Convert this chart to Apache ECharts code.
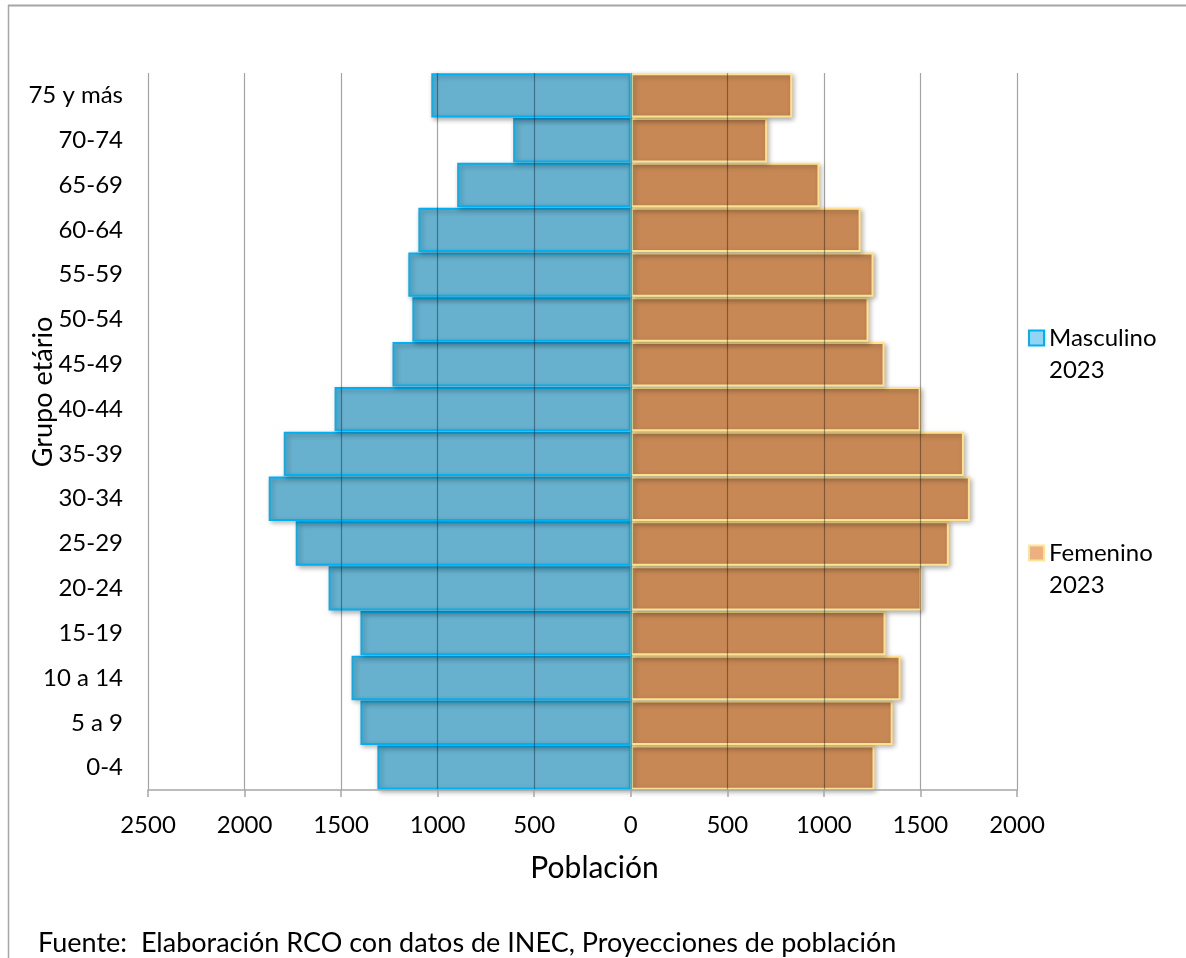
<!DOCTYPE html>
<html>
<head>
<meta charset="utf-8">
<script src="https://cdn.jsdelivr.net/npm/echarts@6/dist/echarts.min.js"></script>
<style>
html,body{margin:0;padding:0;background:#fff;}
#chart{width:1186px;height:958px;}
</style>
</head>
<body>
<div id="chart"></div>
<script>
const categories = ['0-4','5 a 9','10 a 14','15-19','20-24','25-29','30-34','35-39','40-44','45-49','50-54','55-59','60-64','65-69','70-74','75 y más'];
const masculino = [1312,1400,1446,1400,1565,1735,1875,1797,1534,1234,1131,1152,1100,899,609,1033];
const femenino = [1262,1356,1397,1319,1506,1647,1756,1725,1501,1314,1231,1257,1190,977,706,836];
const xTicks = { min: -2500, max: 2000, interval: 500 };
const seriesNames = ['Masculino 2023', 'Femenino 2023'];

const FONT = 'Lato';
const chart = echarts.init(document.getElementById('chart'));
const shadow = { shadowBlur: 5, shadowColor: 'rgba(0,0,0,0.3)', shadowOffsetX: 2, shadowOffsetY: 2 };
const legendText = {
  fontFamily: FONT, fontSize: 24, lineHeight: 32, color: '#000',
  rich: {
    e: { fontSize: 24, lineHeight: 32 },
    a: { fontFamily: FONT, fontSize: 24, lineHeight: 32, color: '#000' }
  }
};
// Name split in two lines; an empty first line keeps the first word level with the icon
const legendFmt = n => { const p = n.split(' '); return '{e| }\n{a|' + p[0] + '}\n{a|' + p[1] + '}'; };

chart.setOption({
  backgroundColor: '#fff',
  animation: false,
  textStyle: { fontFamily: FONT, color: '#000' },
  grid: { left: 148, right: 169, top: 73, bottom: 168, containLabel: false },
  title: {
    text: 'Fuente:  Elaboración RCO con datos de INEC, Proyecciones de población',
    left: 33, top: 925,
    textStyle: { fontFamily: FONT, fontSize: 27, fontWeight: 'normal', color: '#000' }
  },
  legend: [
    {
      data: [seriesNames[0]], orient: 'vertical', left: 1023, top: 285,
      itemWidth: 15, itemHeight: 15, icon: 'rect',
      itemStyle: { color: '#92d5f3', borderColor: '#00b0f0', borderWidth: 2, opacity: 1, shadowBlur: 0 },
      formatter: legendFmt,
      textStyle: legendText
    },
    {
      data: [seriesNames[1]], orient: 'vertical', left: 1023, top: 500,
      itemWidth: 15, itemHeight: 15, icon: 'rect',
      itemStyle: { color: '#eeb07f', borderColor: '#fde49b', borderWidth: 2, opacity: 1, shadowBlur: 0 },
      formatter: legendFmt,
      textStyle: legendText
    }
  ],
  xAxis: {
    type: 'value', min: xTicks.min, max: xTicks.max, interval: xTicks.interval,
    z: 5,
    name: 'Población', nameLocation: 'middle', nameGap: 63,
    nameTextStyle: { fontFamily: FONT, fontSize: 30, color: '#000', padding: [0, 0, 0, 24] },
    axisLine: { show: true, lineStyle: { color: '#a6a6a6', width: 1.5 } },
    axisTick: { show: true, length: 7, lineStyle: { color: '#a6a6a6', width: 1.5 } },
    axisLabel: { fontFamily: FONT, fontSize: 24, color: '#000', margin: 23, formatter: v => String(Math.abs(v)) },
    splitLine: { show: true, lineStyle: { color: 'rgba(0,0,0,0.36)', width: 1.2 } }
  },
  yAxis: {
    type: 'category', data: categories,
    axisLine: { show: false }, axisTick: { show: false },
    axisLabel: { fontFamily: FONT, fontSize: 24, color: '#000', margin: 25 },
    splitLine: { show: false }
  },
  series: [
    {
      name: seriesNames[0], type: 'bar', stack: 'pop',
      data: masculino.map(v => -v),
      barCategoryGap: '1%',
      itemStyle: Object.assign({ color: '#67b1cf', borderColor: '#00b0f0', borderWidth: 2 }, shadow)
    },
    {
      name: seriesNames[1], type: 'bar', stack: 'pop',
      data: femenino,
      barCategoryGap: '1%',
      itemStyle: Object.assign({ color: '#c78855', borderColor: '#fde391', borderWidth: 2 }, shadow)
    }
  ],
  graphic: [
    { type: 'line', shape: { x1: 8, y1: 5.5, x2: 1186, y2: 5.5 }, style: { stroke: '#a6a6a6', lineWidth: 2 } },
    { type: 'line', shape: { x1: 8.5, y1: 5, x2: 8.5, y2: 958 }, style: { stroke: '#a6a6a6', lineWidth: 1.5 } },
    { type: 'text', x: 43, y: 392, rotation: Math.PI / 2,
      style: { text: 'Grupo etário', font: '27px Lato', fill: '#000', align: 'center', verticalAlign: 'middle' } }
  ]
});
</script>
</body>
</html>
